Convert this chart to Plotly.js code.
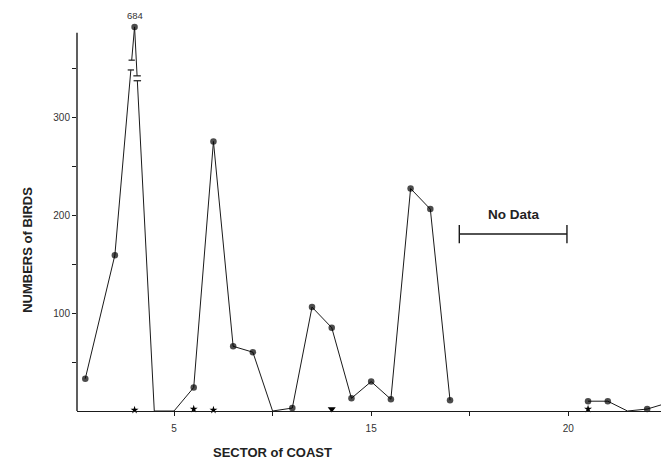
<!DOCTYPE html>
<html><head><meta charset="utf-8">
<script src="https://cdn.plot.ly/plotly-3.0.1.min.js"></script>
<style>html,body{margin:0;padding:0;background:#fff}</style>
</head><body><div id="chart" style="width:661px;height:476px"></div>
<script>
// Main series: numbers of birds per sector of coast (null = no data gap)
const sectors = [0.5, 2, 3, 4, 5, 6, 7, 8, 9, 10, 11, 12, 13, 14, 15, 16, 17, 18, 19, 22, 26, 27, 28, 29, 30];
const birds   = [33, 159, 684, 0, 0, 24, 275, 66, 60, 0, 3, 106, 85, 13, 30, 12, 227, 206, 11, null, 10, 10, 0, 2, 8];
// Secondary records near zero
const starSectors = [3, 6, 7, 26];
const starBirds   = [1, 2, 1, 2];
const triSectors  = [13];
const triBirds    = [2];
// Axis labels
const xTickVals = [5, 10, 15, 20, 25];
const xTickText = ["5", "", "15", "", "20"];
const yTickVals = [50, 100, 150, 200, 250, 300, 350];
const yTickText = ["", "100", "", "200", "", "300", ""];
const noDataRange = [19.47, 24.93];
const noDataLabel = "No Data";

// broken y axis: values above BREAK are compressed
const BREAK = 340, K = 0.151;
const disp = v => (v === null ? null : (v > BREAK ? BREAK + (v - BREAK) * K : v));

const ink = "#1a1a1a";
const yDisp = birds.map(disp);
const sizes = birds.map(v => (v === 0 ? 0 : 6.5));

const traces = [
  {x: sectors, y: yDisp, mode: "lines+markers", connectgaps: false, cliponaxis: false,
   line: {color: ink, width: 1}, marker: {color: "#000", size: sizes, line: {width: 0}},
   hoverinfo: "x+text", text: birds.map(String)},
  {x: starSectors, y: starBirds, mode: "markers", cliponaxis: false,
   marker: {symbol: "star", color: "#000", size: 6, line: {width: 0}}},
  {x: triSectors, y: triBirds, mode: "markers", cliponaxis: false,
   marker: {symbol: "triangle-down", color: "#000", size: 7, line: {width: 0}}}
];

// y axis line (ends below the broken top)
const yAxisTop = 386;
const shapes = [{type: "line", xref: "paper", yref: "y", x0: 0, x1: 0, y0: 0, y1: yAxisTop,
                 line: {color: ink, width: 1.4}}];

// break marks on the two segments around the peak
const iPeak = birds.indexOf(Math.max(...birds.filter(v => v !== null)));
function onSeg(i0, i1, lev) {
  const x0 = sectors[i0], y0 = yDisp[i0], x1 = sectors[i1], y1 = yDisp[i1];
  return x0 + (lev - y0) / (y1 - y0) * (x1 - x0);
}
function breakMarks(i0, i1, levs, hw) {
  const xa = onSeg(i0, i1, levs[0]), xb = onSeg(i0, i1, levs[1]);
  shapes.push({type: "line", xref: "x", yref: "y", x0: xa, x1: xb, y0: levs[0], y1: levs[1],
               line: {color: "#fff", width: 3}});
  levs.forEach((l, j) => {
    const xc = j === 0 ? xa : xb;
    shapes.push({type: "line", xref: "x", yref: "y", x0: xc - hw, x1: xc + hw, y0: l, y1: l,
                 line: {color: ink, width: 1.2}});
  });
}
breakMarks(iPeak - 1, iPeak, [358, 348], 0.16);
breakMarks(iPeak, iPeak + 1, [342, 337], 0.19);

// No data bar
const barY = 180.6, capH = 9.3;
shapes.push({type: "line", xref: "x", yref: "y", x0: noDataRange[0], x1: noDataRange[1], y0: barY, y1: barY,
             line: {color: ink, width: 1.4}});
noDataRange.forEach(xv => shapes.push({type: "line", xref: "x", yref: "y", x0: xv, x1: xv,
             y0: barY - capH, y1: barY + capH, line: {color: ink, width: 1.4}}));

const font = "'Liberation Sans', Arial, Helvetica, sans-serif";
const layout = {
  width: 661, height: 476,
  margin: {l: 77, r: 0, t: 19, b: 65},
  paper_bgcolor: "#fff", plot_bgcolor: "#fff",
  showlegend: false,
  font: {family: font, color: ink},
  xaxis: {range: [0.08, 29.7], showgrid: false, zeroline: false, showline: true,
          linecolor: ink, linewidth: 1.4, ticks: "outside", ticklen: 4, tickcolor: ink,
          tickvals: xTickVals, ticktext: xTickText, tickfont: {size: 10, color: "#333"},
          ticklabelstandoff: 4},
  yaxis: {range: [0, 400], showgrid: false, zeroline: false, showline: false,
          ticks: "outside", ticklen: 4, tickcolor: ink,
          tickvals: yTickVals, ticktext: yTickText, tickfont: {size: 10, color: "#333"}},
  shapes: shapes,
  annotations: [
    {xref: "x", yref: "y", x: sectors[iPeak], y: yDisp[iPeak], yshift: 11, showarrow: false,
     text: String(birds[iPeak]), font: {size: 9.5, color: "#333"}},
    {xref: "x", yref: "y", x: (noDataRange[0] + noDataRange[1]) / 2, y: 201, showarrow: false,
     text: "<b>" + noDataLabel + "</b>", font: {size: 13.5, color: "#222"}},
    {xref: "paper", yref: "paper", x: 0.3356, y: -0.13, showarrow: false,
     text: "<b>SECTOR of COAST</b>", font: {size: 13, color: "#222"}},
    {xref: "paper", yref: "paper", x: -0.101, y: 0.41, showarrow: false, textangle: -90,
     text: "<b>NUMBERS of BIRDS</b>", font: {size: 13, color: "#222"}}
  ]
};
Plotly.newPlot("chart", traces, layout, {staticPlot: true, displayModeBar: false});
</script></body></html>
